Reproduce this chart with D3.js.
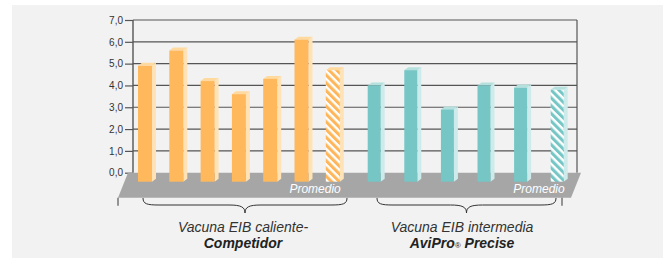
<!DOCTYPE html>
<html>
<head>
<meta charset="utf-8">
<script src="https://cdn.jsdelivr.net/npm/d3@7"></script>
<style>
	body { margin: 0; background: #ffffff; }
	svg { display: block; }
</style>
</head>
<body>
<div id="chart"></div>
<script>
		var w = 672;
		var h = 258;

		//Data
		var competidorCats = ["C1", "C2", "C3", "C4", "C5", "C6", "Promedio"];
		var competidorVals = [4.9, 5.6, 4.2, 3.6, 4.3, 6.1, 4.7];
		var aviproCats = ["A1", "A2", "A3", "A4", "A5", "Promedio"];
		var aviproVals = [4.0, 4.7, 2.9, 4.0, 3.9, 3.8];
		var yTicks = [0, 1, 2, 3, 4, 5, 6, 7];
		var groupLabels = [
			["Vacuna EIB caliente-", "Competidor"],
			["Vacuna EIB intermedia", "AviPro", " Precise"]
		];

		var wallLeft = 133, wallRight = 577;
		var depthX = 4, depthY = 3;   //3d offset of bar side/top
		var floorDrop = 9;            //bars stand on front of floor

		var svg = d3.select("#chart")
					.append("svg")
					.attr("width", w)
					.attr("height", h)
					.attr("font-family", "'Liberation Sans', Arial, sans-serif");

		//panel background
		svg.append("rect")
			.attr("x", 12)
			.attr("y", 5)
			.attr("width", 651)
			.attr("height", 253)
			.style("fill", "#f1f2f1");

		var yScale = d3.scaleLinear()
					.domain([0, 7])
					.range([172.7, 20]);

		var xComp = d3.scaleBand()
					.domain(competidorCats)
					.range([138, 339.8])
					.paddingInner(0.553)
					.paddingOuter(0);

		var xAvi = d3.scaleBand()
					.domain(aviproCats)
					.range([367.7, 563.7])
					.paddingInner(0.645)
					.paddingOuter(0);

		//hatch patterns for the averages
		var defs = svg.append("defs");
		function hatch(id, col) {
			var p = defs.append("pattern")
				.attr("id", id)
				.attr("width", 5.5)
				.attr("height", 5.5)
				.attr("patternUnits", "userSpaceOnUse")
				.attr("patternTransform", "rotate(45)");
			p.append("rect").attr("width", 5.5).attr("height", 5.5).style("fill", col);
			p.append("rect").attr("width", 5.5).attr("height", 2.4).style("fill", "#ffffff");
		}
		hatch("hatchOrange", "#ffb65a");
		hatch("hatchTeal", "#76c6c6");

		//Y axis with gridlines
		var yAxis = d3.axisLeft(yScale)
					.tickValues(yTicks)
					.tickSize(8)
					.tickPadding(2)
					.tickFormat(function(d) { return d3.format(".1f")(d).replace(".", ","); });

		var gAxis = svg.append("g")
			.attr("transform", "translate(" + wallLeft + ",0)")
			.call(yAxis);
		gAxis.select(".domain").remove();
		gAxis.selectAll("line").attr("stroke", "#555").attr("stroke-width", 1.2);
		gAxis.selectAll("text")
			.attr("font-size", "10px")
			.attr("fill", "#333");

		svg.selectAll(".grid")
			.data(yTicks.filter(function(d) { return d > 0; }))
			.enter()
			.append("line")
			.attr("class", "grid")
			.attr("x1", wallLeft)
			.attr("x2", wallRight)
			.attr("y1", function(d) { return yScale(d); })
			.attr("y2", function(d) { return yScale(d); })
			.attr("stroke", "#555")
			.attr("stroke-width", 1.2);

		//wall edges
		svg.append("line")
			.attr("x1", wallLeft).attr("x2", wallLeft)
			.attr("y1", yScale(7)).attr("y2", yScale(0))
			.attr("stroke", "#555").attr("stroke-width", 1.4);
		svg.append("line")
			.attr("x1", wallRight).attr("x2", wallRight)
			.attr("y1", yScale(7)).attr("y2", yScale(0))
			.attr("stroke", "#555").attr("stroke-width", 1.2);

		//floor
		var fTop = yScale(0), fBot = yScale(0) + 25;
		svg.append("polygon")
			.attr("points", [[128, fTop], [581, fTop], [571, fBot], [118, fBot]].join(" "))
			.style("fill", "#a6a6a6");

		//end marks under the floor
		[118, 562].forEach(function(x) {
			svg.append("line")
				.attr("x1", x).attr("x2", x)
				.attr("y1", fBot).attr("y2", fBot + 8)
				.attr("stroke", "#555")
				.attr("stroke-width", 1.2);
		});

		//draw one group of 3d bars
		function drawBars(cats, vals, xs, front, side, top, hatchId) {
			var g = svg.append("g");
			var bw = xs.bandwidth();
			var yBot = yScale(0) + floorDrop;
			cats.forEach(function(c, i) {
				var x = xs(c);
				var yTop = yScale(vals[i]);
				g.append("polygon")
					.attr("points", [[x + bw, yTop], [x + bw + depthX, yTop - depthY], [x + bw + depthX, yBot - depthY], [x + bw, yBot]].join(" "))
					.style("fill", side);
				g.append("polygon")
					.attr("points", [[x, yTop], [x + depthX, yTop - depthY], [x + bw + depthX, yTop - depthY], [x + bw, yTop]].join(" "))
					.style("fill", top);
				g.append("rect")
					.attr("x", x)
					.attr("y", yTop)
					.attr("width", bw)
					.attr("height", yBot - yTop)
					.style("fill", c == "Promedio" ? "url(#" + hatchId + ")" : front);
				if (c == "Promedio") {
					g.append("text")
						.text("Promedio")
						.attr("x", x + bw + 1)
						.attr("y", 192.5)
						.attr("text-anchor", "end")
						.attr("font-size", "12px")
						.attr("font-style", "italic")
						.attr("fill", "#ffffff");
				}
			});
		}
		drawBars(competidorCats, competidorVals, xComp, "#ffb85c", "#ffe2b5", "#ffd99e", "hatchOrange");
		drawBars(aviproCats, aviproVals, xAvi, "#76c6c6", "#cdebea", "#b4e0de", "hatchTeal");

		//curly braces under groups
		function brace(x1, x2, yb) {
			var m = (x1 + x2) / 2;
			var p = d3.path();
			p.moveTo(x1, yb);
			p.bezierCurveTo(x1, yb + 6, x1 + 4, yb + 7, x1 + 16, yb + 7);
			p.lineTo(m - 16, yb + 7);
			p.bezierCurveTo(m - 4, yb + 7, m, yb + 9, m, yb + 15);
			p.bezierCurveTo(m, yb + 9, m + 4, yb + 7, m + 16, yb + 7);
			p.lineTo(x2 - 16, yb + 7);
			p.bezierCurveTo(x2 - 4, yb + 7, x2, yb + 6, x2, yb);
			svg.append("path")
				.attr("d", p.toString())
				.attr("fill", "none")
				.attr("stroke", "#333")
				.attr("stroke-width", 1);
		}
		brace(143, 347, 198);
		brace(377, 556, 198);

		//group titles
		svg.append("text")
			.text(groupLabels[0][0])
			.attr("x", 243).attr("y", 232)
			.attr("text-anchor", "middle")
			.attr("font-size", "14px").attr("font-style", "italic")
			.attr("fill", "#333");
		svg.append("text")
			.text(groupLabels[0][1])
			.attr("x", 243).attr("y", 247.5)
			.attr("text-anchor", "middle")
			.attr("font-size", "14px").attr("font-style", "italic").attr("font-weight", "bold")
			.attr("fill", "#222");
		svg.append("text")
			.text(groupLabels[1][0])
			.attr("x", 462).attr("y", 232)
			.attr("text-anchor", "middle")
			.attr("font-size", "14px").attr("font-style", "italic")
			.attr("fill", "#333");
		var t2 = svg.append("text")
			.attr("x", 462).attr("y", 247.5)
			.attr("text-anchor", "middle")
			.attr("font-size", "14px").attr("font-style", "italic").attr("font-weight", "bold")
			.attr("fill", "#222");
		t2.append("tspan").text(groupLabels[1][1]);
		t2.append("tspan").text("®").attr("font-size", "8px").attr("font-weight", "normal");
		t2.append("tspan").text(groupLabels[1][2]);
</script>
</body>
</html>
